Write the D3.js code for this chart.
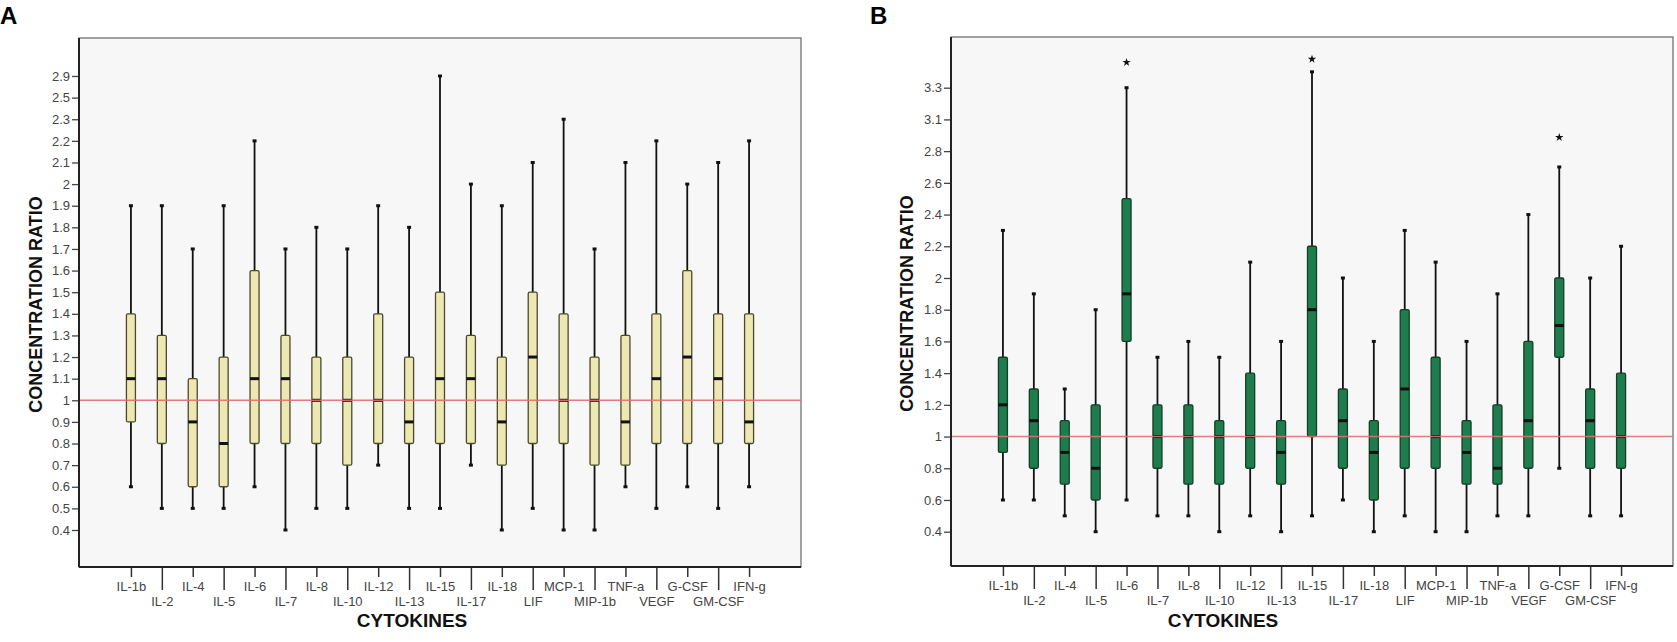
<!DOCTYPE html>
<html>
<head>
<meta charset="utf-8">
<script src="https://cdn.jsdelivr.net/npm/d3@7"></script>
<style>
  body { margin: 0; background: #fff; }
  svg { display: block; font-family: Arial, "Liberation Sans", sans-serif; }
</style>
</head>
<body>
<svg id="chart" width="1677" height="642"></svg>
<script>
// categories shared by both panels
const cytokines = ["IL-1b", "IL-2", "IL-4", "IL-5", "IL-6", "IL-7", "IL-8", "IL-10", "IL-12", "IL-13",
  "IL-15", "IL-17", "IL-18", "LIF", "MCP-1", "MIP-1b", "TNF-a", "VEGF", "G-CSF", "GM-CSF", "IFN-g"];

// panel A: tick labels (ordinal, equally spaced) and box stats
const ticksA = [0.4, 0.5, 0.6, 0.7, 0.8, 0.9, 1, 1.1, 1.2, 1.3, 1.4, 1.5, 1.6, 1.7, 1.8, 1.9, 2, 2.1, 2.2, 2.3, 2.5, 2.9];
const minA = [0.6, 0.5, 0.5, 0.5, 0.6, 0.4, 0.5, 0.5, 0.7, 0.5, 0.5, 0.7, 0.4, 0.5, 0.4, 0.4, 0.6, 0.5, 0.6, 0.5, 0.6];
const q1A  = [0.9, 0.8, 0.6, 0.6, 0.8, 0.8, 0.8, 0.7, 0.8, 0.8, 0.8, 0.8, 0.7, 0.8, 0.8, 0.7, 0.7, 0.8, 0.8, 0.8, 0.8];
const medA = [1.1, 1.1, 0.9, 0.8, 1.1, 1.1, 1.0, 1.0, 1.0, 0.9, 1.1, 1.1, 0.9, 1.2, 1.0, 1.0, 0.9, 1.1, 1.2, 1.1, 0.9];
const q3A  = [1.4, 1.3, 1.1, 1.2, 1.6, 1.3, 1.2, 1.2, 1.4, 1.2, 1.5, 1.3, 1.2, 1.5, 1.4, 1.2, 1.3, 1.4, 1.6, 1.4, 1.4];
const maxA = [1.9, 1.9, 1.7, 1.9, 2.2, 1.7, 1.8, 1.7, 1.9, 1.8, 2.9, 2.0, 1.9, 2.1, 2.3, 1.7, 2.1, 2.2, 2.0, 2.1, 2.2];

// panel B
const ticksB = [0.4, 0.6, 0.8, 1, 1.2, 1.4, 1.6, 1.8, 2, 2.2, 2.4, 2.6, 2.8, 3.1, 3.3];
const minB = [0.6, 0.6, 0.5, 0.4, 0.6, 0.5, 0.5, 0.4, 0.5, 0.4, 0.5, 0.6, 0.4, 0.5, 0.4, 0.4, 0.5, 0.5, 0.8, 0.5, 0.5];
const q1B  = [0.9, 0.8, 0.7, 0.6, 1.6, 0.8, 0.7, 0.7, 0.8, 0.7, 1.0, 0.8, 0.6, 0.8, 0.8, 0.7, 0.7, 0.8, 1.5, 0.8, 0.8];
const medB = [1.2, 1.1, 0.9, 0.8, 1.9, 1.0, 1.0, 1.0, 1.0, 0.9, 1.8, 1.1, 0.9, 1.3, 1.0, 0.9, 0.8, 1.1, 1.7, 1.1, 1.0];
const q3B  = [1.5, 1.3, 1.1, 1.2, 2.5, 1.2, 1.2, 1.1, 1.4, 1.1, 2.2, 1.3, 1.1, 1.8, 1.5, 1.1, 1.2, 1.6, 2.0, 1.3, 1.4];
const maxB = [2.3, 1.9, 1.3, 1.8, 3.3, 1.5, 1.6, 1.5, 2.1, 1.6, 3.4, 2.0, 1.6, 2.3, 2.1, 1.6, 1.9, 2.4, 2.7, 2.0, 2.2];
const outliersB = [
  { cat: "IL-6", value: 3.46 },
  { cat: "IL-15", value: 3.48 },
  { cat: "G-CSF", value: 2.93 }
];

const svg = d3.select("#chart");

function panel(opts) {
  const { left, top, right, bottom, yLow, yHigh } = opts;
  const g = svg.append("g");

  // plot background + frame
  g.append("rect")
    .attr("x", left).attr("y", top)
    .attr("width", right - left).attr("height", bottom - top)
    .attr("fill", "#f7f7f7")
    .attr("stroke", "#666").attr("stroke-width", 1.2);

  // ordinal-looking y axis: ticks equally spaced, values mapped piecewise
  const pos = d3.scalePoint().domain(opts.ticks.map(String)).range([yLow, yHigh]);
  const y = d3.scaleLinear().domain(opts.ticks).range(opts.ticks.map(t => pos(String(t))));

  const x = d3.scalePoint().domain(cytokines).range([left, right]).padding(1.68);

  const yAxis = g.append("g")
    .attr("transform", `translate(${left},0)`)
    .call(d3.axisLeft(y).tickValues(opts.ticks).tickSize(7).tickPadding(2).tickFormat(d => String(d)));
  yAxis.select(".domain").remove();
  yAxis.selectAll("line").attr("stroke", "#444").attr("stroke-width", 1.3);
  yAxis.selectAll("text").attr("font-size", 13).attr("fill", "#444").attr("font-family", "Arial, 'Liberation Sans', sans-serif");

  const xAxis = g.append("g")
    .attr("transform", `translate(0,${bottom})`)
    .call(d3.axisBottom(x).tickSize(10).tickPadding(4));
  xAxis.select(".domain").remove();
  xAxis.selectAll(".tick line")
    .attr("stroke", "#333").attr("stroke-width", 1.5)
    .attr("y2", (d, i) => i % 2 ? 23 : 10);
  xAxis.selectAll(".tick text")
    .attr("font-size", 13).attr("fill", "#444")
    .attr("font-family", "Arial, 'Liberation Sans', sans-serif")
    .attr("dy", null)
    .attr("y", (d, i) => i % 2 ? 39 : 24);

  // dark left and bottom axis lines
  g.append("line").attr("x1", left).attr("x2", left).attr("y1", top).attr("y2", bottom)
    .attr("stroke", "#222").attr("stroke-width", 2);
  g.append("line").attr("x1", left).attr("x2", right).attr("y1", bottom).attr("y2", bottom)
    .attr("stroke", "#222").attr("stroke-width", 2);

  const rows = cytokines.map((c, i) => ({
    cat: c, min: opts.min[i], q1: opts.q1[i], med: opts.med[i], q3: opts.q3[i], max: opts.max[i]
  }));
  const bw = 9;

  const box = g.append("g").selectAll("g").data(rows).join("g");

  box.append("line")
    .attr("x1", d => x(d.cat)).attr("x2", d => x(d.cat))
    .attr("y1", d => y(d.max)).attr("y2", d => y(d.min))
    .attr("stroke", "#111").attr("stroke-width", 1.8);

  box.selectAll(".cap").data(d => [d.min, d.max].map(v => ({ cat: d.cat, v })))
    .join("line").attr("class", "cap")
    .attr("x1", d => x(d.cat) - 2).attr("x2", d => x(d.cat) + 2)
    .attr("y1", d => y(d.v)).attr("y2", d => y(d.v))
    .attr("stroke", "#111").attr("stroke-width", 3);

  box.append("rect")
    .attr("x", d => x(d.cat) - bw / 2).attr("width", bw)
    .attr("y", d => y(d.q3)).attr("height", d => y(d.q1) - y(d.q3))
    .attr("rx", 1.5)
    .attr("fill", opts.fill).attr("stroke", opts.stroke).attr("stroke-width", 1.3);

  box.append("line")
    .attr("x1", d => x(d.cat) - bw / 2).attr("x2", d => x(d.cat) + bw / 2)
    .attr("y1", d => y(d.med)).attr("y2", d => y(d.med))
    .attr("stroke", "#111").attr("stroke-width", 3);

  // reference line at ratio 1
  g.append("line")
    .attr("x1", left + 1).attr("x2", right)
    .attr("y1", y(1)).attr("y2", y(1))
    .attr("stroke", "#e07070").attr("stroke-width", 1.5).attr("opacity", 0.9);

  if (opts.outliers) {
    g.append("g").selectAll("path").data(opts.outliers).join("path")
      .attr("transform", d => `translate(${x(d.cat)},${y(d.value)})`)
      .attr("d", d3.symbol(d3.symbolStar, 22))
      .attr("fill", "#111");
  }

  // titles
  g.append("text")
    .attr("transform", `translate(${opts.yTitleX},${(top + bottom) / 2 + 2}) rotate(-90)`)
    .attr("text-anchor", "middle")
    .attr("font-size", 18).attr("font-weight", "bold").attr("fill", "#111")
    .text("CONCENTRATION RATIO");

  g.append("text")
    .attr("x", (left + right) / 2 + opts.xTitleShift).attr("y", 627)
    .attr("text-anchor", "middle")
    .attr("font-size", 19).attr("font-weight", "bold").attr("fill", "#111")
    .text("CYTOKINES");

  svg.append("text")
    .attr("x", opts.letterX).attr("y", 24)
    .attr("font-size", 24).attr("font-weight", "bold").attr("fill", "#000")
    .text(opts.letter);
}

panel({
  letter: "A", letterX: 0,
  left: 79, top: 38, right: 801, bottom: 567, yLow: 530, yHigh: 76,
  ticks: ticksA, min: minA, q1: q1A, med: medA, q3: q3A, max: maxA,
  fill: "#ede8b2", stroke: "#4a4a30", yTitleX: 42, xTitleShift: -28
});

panel({
  letter: "B", letterX: 870,
  left: 951, top: 37, right: 1673, bottom: 566, yLow: 531.7, yHigh: 87.7,
  ticks: ticksB, min: minB, q1: q1B, med: medB, q3: q3B, max: maxB,
  outliers: outliersB,
  fill: "#1f7d4d", stroke: "#123f25", yTitleX: 913, xTitleShift: -89
});
</script>
</body>
</html>
